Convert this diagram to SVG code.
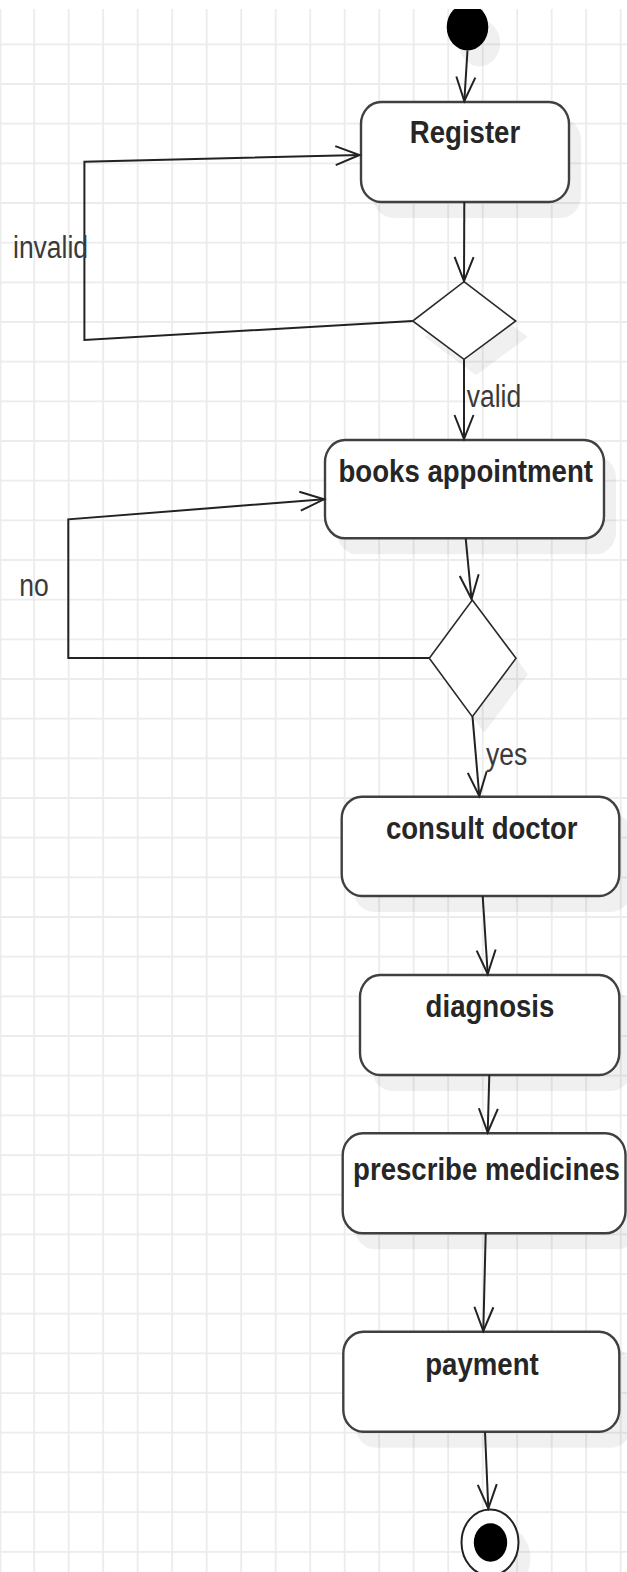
<svg xmlns="http://www.w3.org/2000/svg" width="627" height="1572" viewBox="0 0 627 1572">
  <defs>
    <style>
      .grid { stroke: #ececec; stroke-width: 1.8; fill: none; }
      .shadow { fill: #000; opacity: 0.06; }
      .action { fill: #fff; stroke: #404040; stroke-width: 2.4; }
      .decision { fill: #fff; stroke: #2a2a2a; stroke-width: 1.6; }
      .flow { fill: none; stroke: #222; stroke-width: 2; marker-end: url(#open); }
      .title { font-family: "Liberation Sans", Arial, sans-serif; font-size: 27.6px; font-weight: bold; fill: #262626; text-anchor: middle; }
      .guard { font-family: "Liberation Sans", Arial, sans-serif; font-size: 26.5px; fill: #3a3a3a; }
    </style>
    <marker id="open" markerUnits="userSpaceOnUse" viewBox="-27 -12 30 24" markerWidth="30" markerHeight="24" refX="0" refY="0" orient="auto" overflow="visible">
      <path d="M-24,-9.5 L0,0 L-24,9.5" fill="none" stroke="#222" stroke-width="2"/>
    </marker>
  </defs>

  <!-- background grid -->
  <rect x="0" y="0" width="627" height="1572" fill="#fff"/>
  <path class="grid" d="M0.5,0V1572 M34.2,0V1572 M68.7,0V1572 M103.2,0V1572 M137.7,0V1572 M172.2,0V1572 M206.7,0V1572 M241.2,0V1572 M275.7,0V1572 M310.2,0V1572 M344.7,0V1572 M379.2,0V1572 M413.7,0V1572 M448.2,0V1572 M482.7,0V1572 M517.2,0V1572 M551.7,0V1572 M586.2,0V1572 M620.7,0V1572
    M0,44.3H627 M0,84H627 M0,123.6H627 M0,163.3H627 M0,203H627 M0,242.7H627 M0,282.3H627 M0,322H627 M0,361.7H627 M0,401.3H627 M0,441H627 M0,480.7H627 M0,520.3H627 M0,560H627 M0,599.7H627 M0,639.3H627 M0,679H627 M0,718.7H627 M0,758.4H627 M0,798H627 M0,837.7H627 M0,877.4H627 M0,917H627 M0,956.7H627 M0,996.4H627 M0,1036H627 M0,1075.7H627 M0,1115.4H627 M0,1155.1H627 M0,1194.7H627 M0,1234.4H627 M0,1274.1H627 M0,1313.7H627 M0,1353.4H627 M0,1393.1H627 M0,1432.7H627 M0,1472.4H627 M0,1512.1H627 M0,1551.8H627"/>

  <!-- nodes -->
  <g id="start">
    <ellipse class="shadow" cx="479.5" cy="43" rx="20.8" ry="23.5"/>
    <ellipse cx="467.5" cy="27" rx="20.8" ry="23.5" fill="#000"/>
  </g>

  <g id="register">
    <rect class="shadow" x="373" y="118" width="208" height="100" rx="20" ry="22"/>
    <rect class="action" x="361" y="102" width="208" height="100" rx="20" ry="22"/>
    <text class="title" transform="translate(465,143.3) scale(1,1.13)">Register</text>
  </g>

  <g id="check-registration">
    <polygon class="shadow" points="476,297.7 527.7,337 476,375.3 424.7,337"/>
    <polygon class="decision" points="464,281.7 515.7,321 464,359.3 412.7,321"/>
  </g>

  <g id="books-appointment">
    <rect class="shadow" x="337" y="456" width="279" height="98.3" rx="20" ry="22"/>
    <rect class="action" x="325" y="440" width="279" height="98.3" rx="20" ry="22"/>
    <text class="title" transform="translate(465.7,481.7) scale(1,1.13)">books appointment</text>
  </g>

  <g id="check-appointment">
    <polygon class="shadow" points="484.3,616 528,674.3 484.3,732.7 441.3,674.3"/>
    <polygon class="decision" points="472.3,600 516,658.3 472.3,716.7 429.3,658.3"/>
  </g>

  <g id="consult-doctor">
    <rect class="shadow" x="353.7" y="812.7" width="277.6" height="99.3" rx="20" ry="22"/>
    <rect class="action" x="341.7" y="796.7" width="277.6" height="99.3" rx="20" ry="22"/>
    <text class="title" transform="translate(481.7,839.3) scale(1,1.13)">consult doctor</text>
  </g>

  <g id="diagnosis">
    <rect class="shadow" x="372" y="991" width="259.3" height="100" rx="20" ry="22"/>
    <rect class="action" x="360" y="975" width="259.3" height="100" rx="20" ry="22"/>
    <text class="title" transform="translate(490,1016.7) scale(1,1.13)">diagnosis</text>
  </g>

  <g id="prescribe-medicines">
    <rect class="shadow" x="354.7" y="1149.3" width="282.8" height="100" rx="20" ry="22"/>
    <rect class="action" x="342.7" y="1133.3" width="282.8" height="100" rx="20" ry="22"/>
    <text class="title" transform="translate(486.5,1180) scale(1,1.13)">prescribe medicines</text>
  </g>

  <g id="payment">
    <rect class="shadow" x="355.3" y="1347.7" width="276" height="100" rx="20" ry="22"/>
    <rect class="action" x="343.3" y="1331.7" width="276" height="100" rx="20" ry="22"/>
    <text class="title" transform="translate(482,1375) scale(1,1.13)">payment</text>
  </g>

  <g id="end">
    <ellipse class="shadow" cx="502" cy="1558.5" rx="28.5" ry="33"/>
    <ellipse cx="490" cy="1542.5" rx="28.5" ry="33" fill="#fff" stroke="#222" stroke-width="2"/>
    <ellipse cx="490.5" cy="1542.5" rx="16.7" ry="19.2" fill="#000"/>
  </g>

  <!-- control flows -->
  <g id="connectors">
    <path class="flow" d="M467.5,50.5 L464.3,101"/>
    <path class="flow" d="M464.3,202 L464,281"/>
    <path class="flow" d="M464,359.3 L464,439"/>
    <path class="flow" d="M412.7,321 L84.4,340 L84.4,161.7 L359.5,155"/>
    <path class="flow" d="M465.7,538.3 L471.5,599"/>
    <path class="flow" d="M429.3,658 L68.3,658 L68.3,519.3 L324,499.3"/>
    <path class="flow" d="M472.5,716.7 L479.3,796"/>
    <path class="flow" d="M482.7,896 L487.7,974"/>
    <path class="flow" d="M489.3,1075 L487.7,1132.5"/>
    <path class="flow" d="M485.7,1233.3 L483.3,1331"/>
    <path class="flow" d="M485,1431.7 L488.3,1508.5"/>

    <text class="guard" transform="translate(13,258.3) scale(1,1.17)">invalid</text>
    <text class="guard" transform="translate(466.7,406.7) scale(1,1.17)">valid</text>
    <text class="guard" transform="translate(19.3,596) scale(1,1.17)">no</text>
    <text class="guard" transform="translate(486,765) scale(1,1.17)">yes</text>
  </g>

  <!-- blank strip along the top edge -->
  <rect x="0" y="0" width="627" height="9" fill="#fff"/>
</svg>
